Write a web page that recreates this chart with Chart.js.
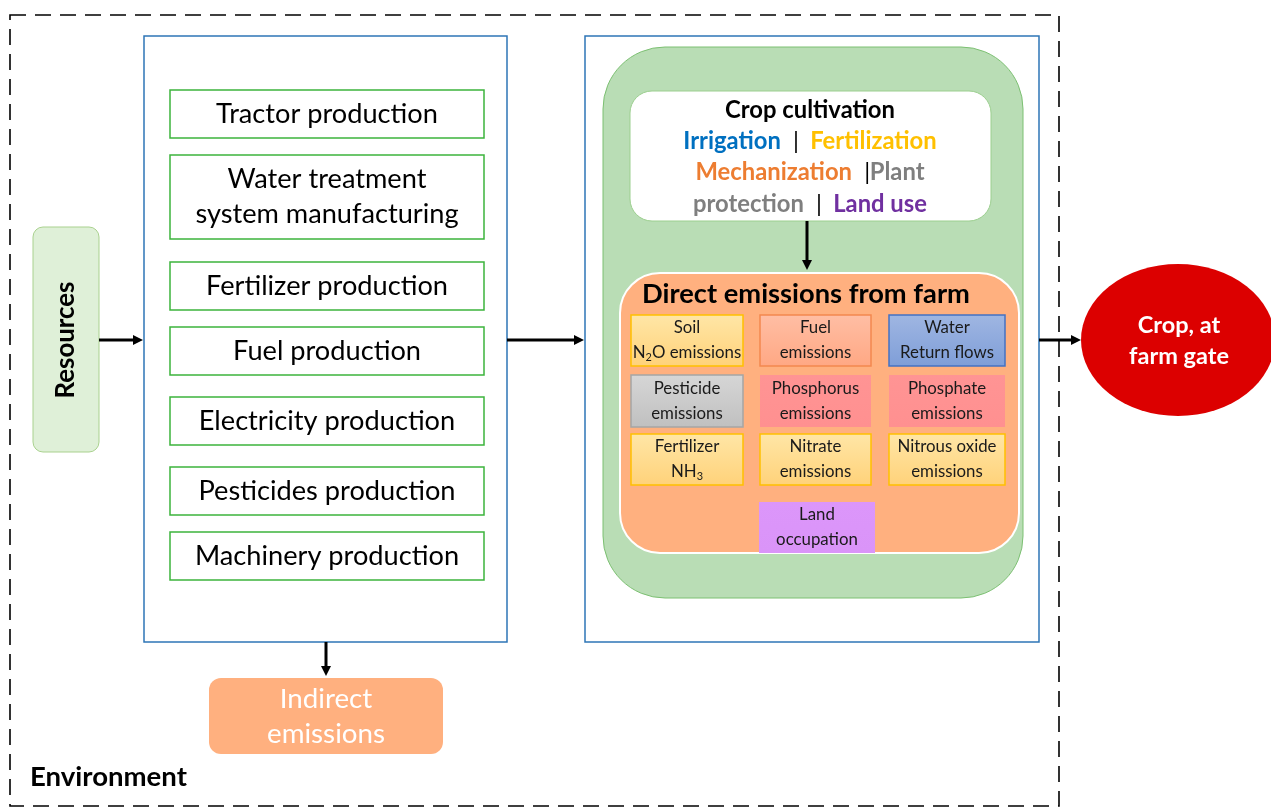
<!DOCTYPE html>
<html>
<head>
<meta charset="utf-8">
<script src="https://cdn.jsdelivr.net/npm/chart.js@4/dist/chart.umd.min.js"></script>
<style>
html,body{margin:0;padding:0;background:#fff;}
#wrap{width:1271px;height:808px;}
</style>
</head>
<body>
<div id="wrap"><canvas id="c" width="1271" height="808"></canvas></div>
<script>
// ---------- data (texts of the diagram) ----------
const sourceLabel = ["Resources"];
const upstreamProcesses = [
  "Tractor production",
  "Water treatment\nsystem manufacturing",
  "Fertilizer production",
  "Fuel production",
  "Electricity production",
  "Pesticides production",
  "Machinery production"
];
const cultivationTitle = ["Crop cultivation"];
const cultivationPractices = [
  [["Irrigation", "blue"], ["  |  ", "black"], ["Fertilization", "yellow"]],
  [["Mechanization", "orange"], ["  |", "black"], ["Plant", "gray"]],
  [["protection", "gray"], ["  |  ", "black"], ["Land use", "purple"]]
];
const directTitle = ["Direct emissions from farm"];
const directEmissions = [
  "Soil\nN_2O emissions", "Fuel\nemissions", "Water\nReturn flows",
  "Pesticide\nemissions", "Phosphorus\nemissions", "Phosphate\nemissions",
  "Fertilizer\nNH_3", "Nitrate\nemissions", "Nitrous oxide\nemissions",
  "Land\noccupation"
];
const directKinds = ["yellow", "salmon", "water", "gray", "pink", "pink", "yellow", "yellow", "yellow", "violet"];
const indirectLabel = ["Indirect\nemissions"];
const productLabel = ["Crop, at\nfarm gate"];
const boundaryLabel = ["Environment"];

// ---------- layout (diagram coordinates, 0..1271 x 0..808) ----------
const L = {
  boundary: [10, 15, 1059, 806],
  resources: [33, 227, 99, 452],
  leftPanel: [144, 36, 507, 642],
  upstreamX: [170, 484],
  upstreamY: [[90,138],[155,239],[262,310],[327,375],[397,445],[467,515],[532,580]],
  rightPanel: [585, 36, 1039, 642],
  greenArea: [603, 47, 1023, 598],
  whiteBox: [630, 91, 991, 221],
  orangeBox: [620, 273, 1019, 553],
  cols: [[631,743],[760,871],[889,1005]],
  rows: [[315,366],[375,427],[434,485]],
  landBox: [759, 502, 875, 553],
  indirect: [209, 678, 443, 754],
  ellipse: [1178, 340, 97, 76]
};

const palette = {
  blue: "#0070c0", yellow: "#ffc000", orange: "#ed7d31", gray: "#7f7f7f", purple: "#7030a0", black: "#000000"
};
const FAMILY = "Lato, 'Open Sans', sans-serif";

const diagramPlugin = {
  id: "diagram",
  afterDraw(chart) {
    const ctx = chart.ctx;
    const sx = chart.scales.x, sy = chart.scales.y;
    const X = v => sx.getPixelForValue(v);
    const Y = v => sy.getPixelForValue(v);

    function rrect(x1, y1, x2, y2, r) {
      const a = X(x1), b = Y(y1), c = X(x2), d = Y(y2);
      ctx.beginPath();
      ctx.roundRect(a, b, c - a, d - b, r);
    }
    function rect(x1, y1, x2, y2) {
      const a = X(x1), b = Y(y1), c = X(x2), d = Y(y2);
      ctx.beginPath();
      ctx.rect(a, b, c - a, d - b);
    }
    function fitSize(str, weight, target) {
      ctx.font = weight + " 100px " + FAMILY;
      return 100 * target / ctx.measureText(str).width;
    }
    // text with optional _digit subscripts
    function richWidth(str, size, weight) {
      let w = 0;
      const parts = str.split(/(_\d)/);
      for (const p of parts) {
        if (!p) continue;
        if (p[0] === "_") { ctx.font = weight + " " + (size * 0.65) + "px " + FAMILY; w += ctx.measureText(p.slice(1)).width; }
        else { ctx.font = weight + " " + size + "px " + FAMILY; w += ctx.measureText(p).width; }
      }
      return w;
    }
    function richText(str, cx, cy, size, weight, color) {
      const w = richWidth(str, size, weight);
      let x = cx - w / 2;
      ctx.fillStyle = color;
      ctx.textAlign = "left";
      ctx.textBaseline = "middle";
      for (const p of str.split(/(_\d)/)) {
        if (!p) continue;
        if (p[0] === "_") {
          ctx.font = weight + " " + (size * 0.65) + "px " + FAMILY;
          ctx.fillText(p.slice(1), x, cy + size * 0.28);
          x += ctx.measureText(p.slice(1)).width;
        } else {
          ctx.font = weight + " " + size + "px " + FAMILY;
          ctx.fillText(p, x, cy);
          x += ctx.measureText(p).width;
        }
      }
    }
    function lines(str, cx, cy, size, weight, color, lh) {
      const arr = str.split("\n");
      const n = arr.length;
      arr.forEach((s, i) => richText(s, X(cx), Y(cy) + (i - (n - 1) / 2) * lh, size, weight, color));
    }
    function arrow(x1, y1, x2, y2) {
      const a = X(x1), b = Y(y1), c = X(x2), d = Y(y2);
      const ang = Math.atan2(d - b, c - a);
      const hl = 10, hw = 5;
      ctx.strokeStyle = "#000"; ctx.fillStyle = "#000"; ctx.lineWidth = 3; ctx.setLineDash([]);
      ctx.beginPath();
      ctx.moveTo(a, b);
      ctx.lineTo(c - Math.cos(ang) * hl, d - Math.sin(ang) * hl);
      ctx.stroke();
      ctx.beginPath();
      ctx.moveTo(c, d);
      ctx.lineTo(c - Math.cos(ang) * hl - Math.sin(ang) * hw, d - Math.sin(ang) * hl + Math.cos(ang) * hw);
      ctx.lineTo(c - Math.cos(ang) * hl + Math.sin(ang) * hw, d - Math.sin(ang) * hl - Math.cos(ang) * hw);
      ctx.closePath();
      ctx.fill();
    }

    ctx.save();

    // boundary (dashed)
    ctx.setLineDash([16, 9]);
    ctx.lineWidth = 1.6;
    ctx.strokeStyle = "#000";
    rect(...L.boundary); ctx.stroke();
    ctx.setLineDash([]);

    // resources box
    rrect(...L.resources, 10);
    ctx.fillStyle = "#dff0d8"; ctx.fill();
    ctx.strokeStyle = "#a9d18e"; ctx.lineWidth = 1; ctx.stroke();
    {
      const s = fitSize(sourceLabel[0], "bold", 117);
      ctx.save();
      ctx.translate(X(66), Y(340));
      ctx.rotate(-Math.PI / 2);
      ctx.font = "bold " + s + "px " + FAMILY;
      ctx.fillStyle = "#000"; ctx.textAlign = "center"; ctx.textBaseline = "middle";
      ctx.fillText(sourceLabel[0], 0, 0);
      ctx.restore();
    }

    // left panel
    rect(...L.leftPanel);
    ctx.fillStyle = "#fff"; ctx.fill();
    ctx.strokeStyle = "#2e75b6"; ctx.lineWidth = 1.5; ctx.stroke();
    const upSize = fitSize("Tractor production", "normal", 222);
    upstreamProcesses.forEach((lab, i) => {
      const [y1, y2] = L.upstreamY[i];
      rect(L.upstreamX[0], y1, L.upstreamX[1], y2);
      ctx.strokeStyle = "#3cb43c"; ctx.lineWidth = 1.5; ctx.stroke();
      lines(lab, (L.upstreamX[0] + L.upstreamX[1]) / 2, (y1 + y2) / 2, upSize, "normal", "#000", 35);
    });

    // right panel
    rect(...L.rightPanel);
    ctx.fillStyle = "#fff"; ctx.fill();
    ctx.strokeStyle = "#2e75b6"; ctx.lineWidth = 1.5; ctx.stroke();

    rrect(...L.greenArea, 62);
    ctx.fillStyle = "#b9ddb5"; ctx.fill();
    ctx.strokeStyle = "#7cc072"; ctx.lineWidth = 1; ctx.stroke();

    rrect(...L.whiteBox, 22);
    ctx.fillStyle = "#fff"; ctx.fill();
    ctx.strokeStyle = "#9ccf8f"; ctx.lineWidth = 1; ctx.stroke();
    const ccSize = fitSize(cultivationTitle[0], "bold", 170);
    richText(cultivationTitle[0], X(810), Y(110), ccSize, "bold", "#000");
    cultivationPractices.forEach((segs, i) => {
      ctx.font = "bold " + ccSize + "px " + FAMILY;
      const total = segs.reduce((w, s) => w + ctx.measureText(s[0]).width, 0);
      let x = X(810) - total / 2;
      ctx.textAlign = "left"; ctx.textBaseline = "middle";
      segs.forEach(s => {
        ctx.fillStyle = palette[s[1]];
        ctx.font = (s[1] === "black" ? "normal " : "bold ") + ccSize + "px " + FAMILY;
        ctx.fillText(s[0], x, Y(141 + i * 31.5));
        ctx.font = "bold " + ccSize + "px " + FAMILY;
        x += ctx.measureText(s[0]).width;
      });
    });

    arrow(807, 221, 807, 270);

    rrect(...L.orangeBox, 40);
    ctx.fillStyle = "#ffb07f"; ctx.fill();
    ctx.strokeStyle = "#fff"; ctx.lineWidth = 2; ctx.stroke();
    const dtSize = fitSize(directTitle[0], "bold", 328);
    richText(directTitle[0], X(806), Y(294), dtSize, "bold", "#000");

    const kinds = {
      yellow: { top: "#ffe6a6", bot: "#ffd27a", border: "#ffc000" },
      salmon: { top: "#ffbea4", bot: "#ffa884", border: "#f4884f" },
      water:  { top: "#9fb6e2", bot: "#7f9ed8", border: "#4472c4" },
      gray:   { top: "#d6d6d6", bot: "#c0c0c0", border: "#a5a5a5" },
      pink:   { top: "#ff9494", bot: "#ff9090", border: null },
      violet: { top: "#dc96fa", bot: "#da94f8", border: null }
    };
    const smallSize = fitSize("Nitrous oxide", "normal", 99);
    directEmissions.forEach((lab, i) => {
      let box;
      if (i < 9) {
        const c = L.cols[i % 3], r = L.rows[Math.floor(i / 3)];
        box = [c[0], r[0], c[1], r[1]];
      } else box = L.landBox;
      const k = kinds[directKinds[i]];
      const g = ctx.createLinearGradient(0, Y(box[1]), 0, Y(box[3]));
      g.addColorStop(0, k.top); g.addColorStop(1, k.bot);
      rect(...box);
      ctx.fillStyle = g; ctx.fill();
      if (k.border) { ctx.strokeStyle = k.border; ctx.lineWidth = 1.5; ctx.stroke(); }
      lines(lab, (box[0] + box[2]) / 2, (box[1] + box[3]) / 2, smallSize, "normal", "#1a1a1a", 25);
    });

    // arrows
    arrow(99, 340, 143, 340);
    arrow(507, 340, 584, 340);
    arrow(1039, 340, 1081, 340);
    arrow(326, 642, 326, 676);

    // product ellipse
    ctx.beginPath();
    ctx.ellipse(X(L.ellipse[0]), Y(L.ellipse[1]), L.ellipse[2], L.ellipse[3], 0, 0, Math.PI * 2);
    ctx.fillStyle = "#dc0000"; ctx.fill();
    const prSize = fitSize("farm gate", "bold", 100);
    lines(productLabel[0], 1179, 340.5, prSize, "bold", "#fff", 31);

    // indirect emissions
    rrect(...L.indirect, 12);
    ctx.fillStyle = "#ffb07f"; ctx.fill();
    const inSize = fitSize("emissions", "normal", 118);
    lines(indirectLabel[0], 326, 716.5, inSize, "normal", "#fff", 35);

    // environment label
    const envSize = fitSize(boundaryLabel[0], "bold", 157);
    ctx.font = "bold " + envSize + "px " + FAMILY;
    ctx.fillStyle = "#000"; ctx.textAlign = "left"; ctx.textBaseline = "middle";
    ctx.fillText(boundaryLabel[0], X(30), Y(777));

    ctx.restore();
  }
};

// node centres as (invisible) points so the scales carry the diagram
const nodeX = [66, 326, 810, 806, 1178, 326];
const nodeY = [340, 339, 156, 413, 340, 716];

new Chart(document.getElementById("c"), {
  type: "scatter",
  data: {
    datasets: [{
      label: "nodes",
      data: nodeX.map((x, i) => ({ x: x, y: nodeY[i] })),
      pointRadius: 0,
      pointHoverRadius: 0
    }]
  },
  options: {
    responsive: false,
    devicePixelRatio: 1,
    animation: false,
    events: [],
    layout: { padding: 0 },
    plugins: { legend: { display: false }, tooltip: { enabled: false }, title: { display: false } },
    scales: {
      x: { type: "linear", min: 0, max: 1271, display: false },
      y: { type: "linear", min: 0, max: 808, reverse: true, display: false }
    }
  },
  plugins: [diagramPlugin]
});
</script>
</body>
</html>
